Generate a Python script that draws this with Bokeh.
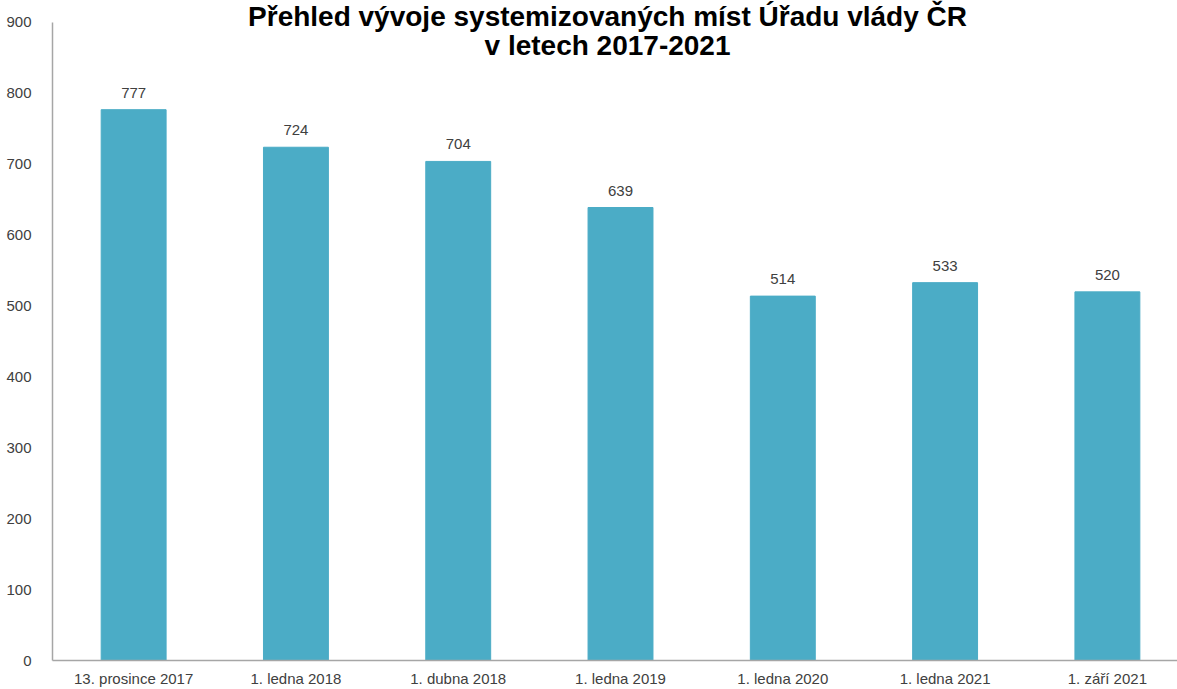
from bokeh.plotting import figure
from bokeh.models import ColumnDataSource, LabelSet, Label, FixedTicker, Range1d
from bokeh.core.properties import value
from bokeh.embed import file_html
from bokeh.resources import INLINE

categories = ["13. prosince 2017", "1. ledna 2018", "1. dubna 2018", "1. ledna 2019",
              "1. ledna 2020", "1. ledna 2021", "1. září 2021"]
values = [777, 724, 704, 639, 514, 533, 520]
y_ticks = [0, 100, 200, 300, 400, 500, 600, 700, 800, 900]
title_lines = ["Přehled vývoje systemizovaných míst Úřadu vlády ČR", "v letech 2017-2021"]

FONT = "Liberation Sans"
TXT = "#404040"
BAR = "#4BACC6"

xpos = list(range(len(categories)))
src = ColumnDataSource(dict(x=xpos, top=values, lab=[str(v) for v in values]))

# frame reaches the top edge so the title can sit inside it; the y axis line stops at 900
p = figure(width=1177, height=689, output_backend="svg", toolbar_location=None,
           x_range=Range1d(-0.5, 6.432), y_range=Range1d(0, 931),
           min_border_left=52, min_border_right=0, min_border_top=0, min_border_bottom=29)
p.outline_line_color = None
p.xgrid.visible = False
p.ygrid.visible = False
p.background_fill_color = "white"
p.border_fill_color = "white"

p.vbar(x="x", top="top", width=0.4, bottom=0, source=src, color=BAR)

p.add_layout(LabelSet(x="x", y="top", text="lab", source=src, y_offset=12,
                      text_align="center", text_baseline="alphabetic",
                      text_font=value(FONT), text_font_size=value("15px"), text_color=TXT))

# x axis
p.xaxis.ticker = FixedTicker(ticks=xpos)
p.xaxis.major_label_overrides = {i: c for i, c in enumerate(categories)}
p.xaxis.major_tick_line_color = None
p.xaxis.minor_tick_line_color = None
p.xaxis.axis_line_color = "#a6a6a6"
p.xaxis.axis_line_width = 1.5
p.xaxis.major_label_standoff = 3
p.xaxis.major_label_text_font = FONT
p.xaxis.major_label_text_font_size = "15px"
p.xaxis.major_label_text_color = TXT

# y axis
p.yaxis.ticker = FixedTicker(ticks=y_ticks)
p.yaxis.bounds = (y_ticks[0], y_ticks[-1])
p.yaxis.major_tick_line_color = None
p.yaxis.minor_tick_line_color = None
p.yaxis.axis_line_color = "#a6a6a6"
p.yaxis.axis_line_width = 1.5
p.yaxis.major_label_standoff = 15
p.yaxis.major_label_text_font = FONT
p.yaxis.major_label_text_font_size = "15px"
p.yaxis.major_label_text_color = TXT

# two-line title
mid = (len(categories) - 1) / 2 - 0.08
p.add_layout(Label(x=mid, y=908, text=title_lines[0], text_align="center",
                   text_baseline="alphabetic", text_font=FONT, text_font_style="bold",
                   text_font_size="28px", text_color="black"))
p.add_layout(Label(x=mid, y=867, text=title_lines[1], text_align="center",
                   text_baseline="alphabetic", text_font=FONT, text_font_style="bold",
                   text_font_size="28px", text_color="black"))

open("out.html", "w").write(file_html(p, INLINE))
